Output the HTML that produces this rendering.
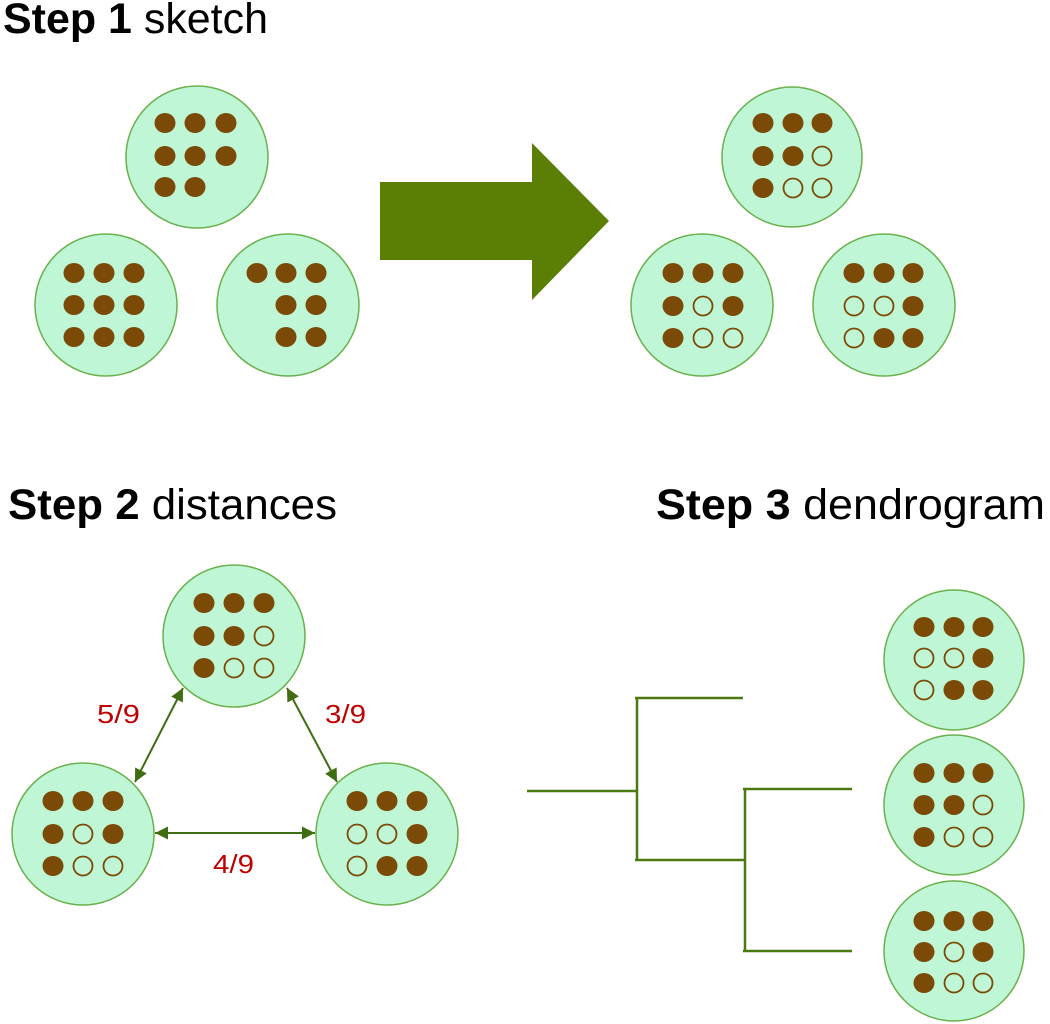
<!DOCTYPE html>
<html><head><meta charset="utf-8"><style>
html,body{margin:0;padding:0;background:#fff;}
svg{display:block;}
</style></head><body>
<svg width="1050" height="1024" viewBox="0 0 1050 1024" xmlns="http://www.w3.org/2000/svg">
<defs>
<marker id="ah" viewBox="0 0 10 10" refX="10" refY="5" markerWidth="7" markerHeight="6.5" orient="auto-start-reverse" markerUnits="strokeWidth">
<path d="M0,0 L10,5 L0,10 z" fill="#3f6e12"/>
</marker>
</defs>
<g font-family="Liberation Sans, sans-serif" font-size="43" fill="#000">
<text x="3" y="33" textLength="265" lengthAdjust="spacingAndGlyphs"><tspan font-weight="bold">Step 1</tspan> sketch</text>
<text x="8" y="519" textLength="329" lengthAdjust="spacingAndGlyphs"><tspan font-weight="bold">Step 2</tspan> distances</text>
<text x="656" y="519" textLength="389" lengthAdjust="spacingAndGlyphs"><tspan font-weight="bold">Step 3</tspan> dendrogram</text>
</g>

<polygon points="380,182 532,182 532,143 609,221 532,300 532,260 380,260" fill="#5b7f04"/>

<g stroke="#6ab04c" stroke-width="1.5" fill="#bff7d6">
<circle cx="197" cy="157" r="71"/>
<circle cx="106" cy="305" r="71"/>
<circle cx="288" cy="305" r="71"/>
<circle cx="792" cy="157" r="70"/>
<circle cx="702" cy="305" r="71"/>
<circle cx="884" cy="305" r="71"/>
<circle cx="234" cy="636" r="71"/>
<circle cx="83" cy="834" r="71"/>
<circle cx="387" cy="834" r="71"/>
<circle cx="954" cy="660" r="70"/>
<circle cx="954" cy="805" r="70"/>
<circle cx="954" cy="951" r="70"/>
</g>

<g fill="#7a4a06">
<ellipse cx="165" cy="123" rx="10.5" ry="10"/><ellipse cx="195" cy="123" rx="10.5" ry="10"/><ellipse cx="226" cy="123" rx="10.5" ry="10"/>
<ellipse cx="165" cy="156" rx="10.5" ry="10"/><ellipse cx="195" cy="156" rx="10.5" ry="10"/><ellipse cx="226" cy="156" rx="10.5" ry="10"/>
<ellipse cx="165" cy="187" rx="10.5" ry="10"/><ellipse cx="195" cy="187" rx="10.5" ry="10"/>
<ellipse cx="74" cy="273" rx="10.5" ry="10"/><ellipse cx="104" cy="273" rx="10.5" ry="10"/><ellipse cx="134" cy="273" rx="10.5" ry="10"/>
<ellipse cx="74" cy="305" rx="10.5" ry="10"/><ellipse cx="104" cy="305" rx="10.5" ry="10"/><ellipse cx="134" cy="305" rx="10.5" ry="10"/>
<ellipse cx="74" cy="337" rx="10.5" ry="10"/><ellipse cx="104" cy="337" rx="10.5" ry="10"/><ellipse cx="134" cy="337" rx="10.5" ry="10"/>
<ellipse cx="257" cy="273" rx="10.5" ry="10"/><ellipse cx="286" cy="273" rx="10.5" ry="10"/><ellipse cx="316" cy="273" rx="10.5" ry="10"/>
<ellipse cx="286" cy="305" rx="10.5" ry="10"/><ellipse cx="316" cy="305" rx="10.5" ry="10"/>
<ellipse cx="286" cy="337" rx="10.5" ry="10"/><ellipse cx="316" cy="337" rx="10.5" ry="10"/>

<ellipse cx="763" cy="123" rx="10.5" ry="10"/><ellipse cx="793" cy="123" rx="10.5" ry="10"/><ellipse cx="822" cy="123" rx="10.5" ry="10"/>
<ellipse cx="763" cy="156" rx="10.5" ry="10"/><ellipse cx="793" cy="156" rx="10.5" ry="10"/>
<ellipse cx="763" cy="188" rx="10.5" ry="10"/>
<ellipse cx="673" cy="273" rx="10.5" ry="10"/><ellipse cx="703" cy="273" rx="10.5" ry="10"/><ellipse cx="733" cy="273" rx="10.5" ry="10"/>
<ellipse cx="673" cy="306" rx="10.5" ry="10"/><ellipse cx="733" cy="306" rx="10.5" ry="10"/>
<ellipse cx="673" cy="338" rx="10.5" ry="10"/>
<ellipse cx="854" cy="273" rx="10.5" ry="10"/><ellipse cx="884" cy="273" rx="10.5" ry="10"/><ellipse cx="913" cy="273" rx="10.5" ry="10"/>
<ellipse cx="913" cy="306" rx="10.5" ry="10"/>
<ellipse cx="884" cy="338" rx="10.5" ry="10"/><ellipse cx="913" cy="338" rx="10.5" ry="10"/>
<ellipse cx="204" cy="603" rx="10.5" ry="10"/><ellipse cx="234" cy="603" rx="10.5" ry="10"/><ellipse cx="264" cy="603" rx="10.5" ry="10"/>
<ellipse cx="204" cy="636" rx="10.5" ry="10"/><ellipse cx="234" cy="636" rx="10.5" ry="10"/>
<ellipse cx="204" cy="668" rx="10.5" ry="10"/>
<ellipse cx="53" cy="801" rx="10.5" ry="10"/><ellipse cx="83" cy="801" rx="10.5" ry="10"/><ellipse cx="113" cy="801" rx="10.5" ry="10"/>
<ellipse cx="53" cy="834" rx="10.5" ry="10"/><ellipse cx="113" cy="834" rx="10.5" ry="10"/>
<ellipse cx="53" cy="866" rx="10.5" ry="10"/>
<ellipse cx="357" cy="801" rx="10.5" ry="10"/><ellipse cx="387" cy="801" rx="10.5" ry="10"/><ellipse cx="417" cy="801" rx="10.5" ry="10"/>
<ellipse cx="417" cy="834" rx="10.5" ry="10"/>
<ellipse cx="387" cy="866" rx="10.5" ry="10"/><ellipse cx="417" cy="866" rx="10.5" ry="10"/>
<ellipse cx="924" cy="627" rx="10.5" ry="10"/><ellipse cx="954" cy="627" rx="10.5" ry="10"/><ellipse cx="983" cy="627" rx="10.5" ry="10"/>
<ellipse cx="983" cy="658" rx="10.5" ry="10"/>
<ellipse cx="954" cy="690" rx="10.5" ry="10"/><ellipse cx="983" cy="690" rx="10.5" ry="10"/>
<ellipse cx="924" cy="773" rx="10.5" ry="10"/><ellipse cx="954" cy="773" rx="10.5" ry="10"/><ellipse cx="983" cy="773" rx="10.5" ry="10"/>
<ellipse cx="924" cy="805" rx="10.5" ry="10"/><ellipse cx="954" cy="805" rx="10.5" ry="10"/>
<ellipse cx="924" cy="837" rx="10.5" ry="10"/>
<ellipse cx="924" cy="921" rx="10.5" ry="10"/><ellipse cx="954" cy="921" rx="10.5" ry="10"/><ellipse cx="983" cy="921" rx="10.5" ry="10"/>
<ellipse cx="924" cy="952" rx="10.5" ry="10"/><ellipse cx="983" cy="952" rx="10.5" ry="10"/>
<ellipse cx="924" cy="983" rx="10.5" ry="10"/>
</g>
<g fill="none" stroke="#7a4a06" stroke-width="1.8">
<circle cx="822" cy="156" r="9.5"/><circle cx="793" cy="188" r="9.5"/><circle cx="822" cy="188" r="9.5"/>
<circle cx="703" cy="306" r="9.5"/><circle cx="703" cy="338" r="9.5"/><circle cx="733" cy="338" r="9.5"/>
<circle cx="854" cy="306" r="9.5"/><circle cx="884" cy="306" r="9.5"/><circle cx="854" cy="338" r="9.5"/>
<circle cx="264" cy="636" r="9.5"/><circle cx="234" cy="668" r="9.5"/><circle cx="264" cy="668" r="9.5"/>
<circle cx="83" cy="834" r="9.5"/><circle cx="83" cy="866" r="9.5"/><circle cx="113" cy="866" r="9.5"/>
<circle cx="357" cy="834" r="9.5"/><circle cx="387" cy="834" r="9.5"/><circle cx="357" cy="866" r="9.5"/>
<circle cx="924" cy="658" r="9.5"/><circle cx="954" cy="658" r="9.5"/><circle cx="924" cy="690" r="9.5"/>
<circle cx="983" cy="805" r="9.5"/><circle cx="954" cy="837" r="9.5"/><circle cx="983" cy="837" r="9.5"/>
<circle cx="954" cy="952" r="9.5"/><circle cx="954" cy="983" r="9.5"/><circle cx="983" cy="983" r="9.5"/>
</g>

<g stroke="#3f6e12" stroke-width="2" fill="none">
<line x1="183" y1="688" x2="135" y2="782" marker-start="url(#ah)" marker-end="url(#ah)"/>
<line x1="287" y1="688" x2="337" y2="782" marker-start="url(#ah)" marker-end="url(#ah)"/>
<line x1="155" y1="833" x2="315" y2="833" marker-start="url(#ah)" marker-end="url(#ah)"/>
</g>
<g font-family="Liberation Sans, sans-serif" font-size="26" fill="#c00000">
<text x="97" y="723" textLength="43" lengthAdjust="spacingAndGlyphs">5/9</text>
<text x="325" y="723" textLength="41" lengthAdjust="spacingAndGlyphs">3/9</text>
<text x="213" y="873" textLength="41" lengthAdjust="spacingAndGlyphs">4/9</text>
</g>

<g stroke="#4a7a10" stroke-width="2.5" fill="none">
<line x1="527" y1="791" x2="637" y2="791"/>
<line x1="637" y1="698" x2="637" y2="860"/>
<line x1="635" y1="698" x2="743" y2="698"/>
<line x1="635" y1="860" x2="745" y2="860"/>
<line x1="745" y1="789" x2="745" y2="951"/>
<line x1="743" y1="789" x2="852" y2="789"/>
<line x1="743" y1="951" x2="852" y2="951"/>
</g>
</svg>
</body></html>
